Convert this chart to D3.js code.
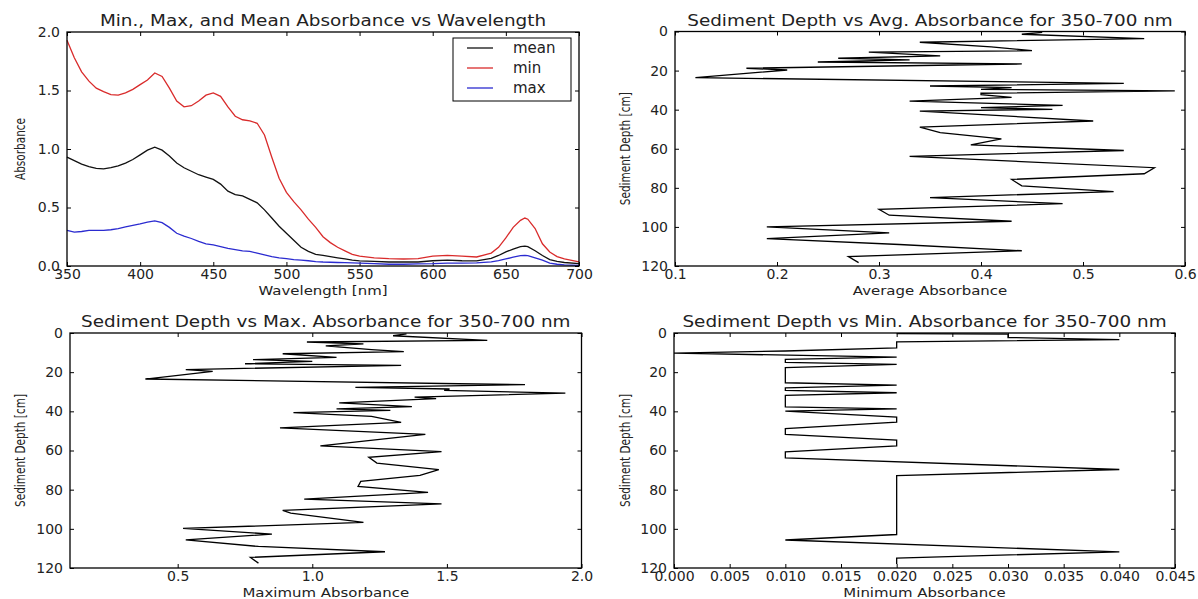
<!DOCTYPE html>
<html>
<head>
<meta charset="utf-8">
<script src="https://d3js.org/d3.v7.min.js"></script>
<style>
  body { margin: 0; background: #fff; }
  text { font-family: "DejaVu Sans", sans-serif; fill: #222; }
</style>
</head>
<body>
<svg id="chart" width="1198" height="599"></svg>
<script>
// ---- spectra: wavelength vs absorbance ----
var wavelengths = [350, 355, 360, 365, 370, 375, 380, 385, 390, 395, 400, 405, 410, 415, 420, 425, 430, 435, 440, 445,
  450, 455, 460, 465, 470, 475, 480, 485, 490, 495, 500, 505, 510, 515, 520, 525, 530, 535, 540, 545,
  550, 560, 570, 580, 590, 600, 610, 620, 630, 640, 645, 650, 655, 660, 663, 665, 670, 675, 680, 685, 690, 700];
var meanSpec = [0.93, 0.90, 0.87, 0.85, 0.835, 0.83, 0.84, 0.855, 0.88, 0.91, 0.95, 0.99, 1.015, 0.99, 0.94, 0.88, 0.84, 0.81, 0.78, 0.76,
  0.74, 0.70, 0.64, 0.61, 0.60, 0.57, 0.54, 0.48, 0.41, 0.34, 0.28, 0.22, 0.16, 0.125, 0.10, 0.09, 0.08, 0.07, 0.06, 0.05,
  0.043, 0.04, 0.034, 0.034, 0.034, 0.045, 0.05, 0.045, 0.043, 0.065, 0.09, 0.12, 0.145, 0.165, 0.17, 0.165, 0.13, 0.09, 0.055, 0.04, 0.03, 0.02];
var minSpec = [1.93, 1.78, 1.66, 1.58, 1.52, 1.49, 1.465, 1.46, 1.48, 1.51, 1.55, 1.59, 1.65, 1.62, 1.52, 1.41, 1.36, 1.37, 1.41, 1.46,
  1.48, 1.45, 1.36, 1.28, 1.25, 1.24, 1.22, 1.12, 0.93, 0.75, 0.63, 0.55, 0.48, 0.40, 0.33, 0.25, 0.20, 0.16, 0.13, 0.10,
  0.085, 0.07, 0.063, 0.06, 0.063, 0.085, 0.09, 0.085, 0.077, 0.11, 0.16, 0.24, 0.33, 0.39, 0.41, 0.40, 0.32, 0.19, 0.12, 0.08, 0.06, 0.035];
var maxSpec = [0.305, 0.29, 0.295, 0.305, 0.305, 0.305, 0.31, 0.32, 0.335, 0.348, 0.36, 0.375, 0.385, 0.37, 0.33, 0.28, 0.255, 0.235, 0.21, 0.19,
  0.18, 0.165, 0.15, 0.14, 0.13, 0.125, 0.11, 0.095, 0.08, 0.07, 0.063, 0.055, 0.05, 0.045, 0.038, 0.034, 0.032, 0.03, 0.028, 0.026,
  0.025, 0.02, 0.015, 0.015, 0.018, 0.02, 0.025, 0.025, 0.026, 0.035, 0.045, 0.06, 0.075, 0.088, 0.091, 0.088, 0.07, 0.05, 0.025, 0.015, 0.01, 0.006];

// ---- depth profiles ----
var avgDepth = [0.4, 1.4, 3.6, 5.5, 7.9, 9.8, 10.6, 12.5, 13.7, 14.5, 15.6, 16.6, 18.8, 19.7, 23.6, 26.5, 27.9, 28.7, 29.6, 30.4,
  31.6, 32.3, 33.7, 35.6, 37.8, 39.0, 39.8, 40.7, 45.8, 48.9, 51.8, 54.9, 58.0, 60.9, 63.9, 69.7, 72.8, 75.7, 79.0, 81.9,
  85.0, 88.1, 91.0, 94.0, 97.1, 100.0, 103.1, 106.0, 109.0, 112.2, 115.2, 118.3];
var avgAbs = [0.46, 0.44, 0.56, 0.34, 0.41, 0.45, 0.29, 0.36, 0.26, 0.33, 0.24, 0.44, 0.17, 0.21, 0.12, 0.54, 0.35, 0.43, 0.40, 0.59,
  0.40, 0.40, 0.43, 0.33, 0.48, 0.40, 0.47, 0.34, 0.51, 0.34, 0.36, 0.42, 0.39, 0.54, 0.33, 0.57, 0.56, 0.43, 0.44, 0.53,
  0.35, 0.48, 0.30, 0.31, 0.43, 0.19, 0.31, 0.19, 0.32, 0.44, 0.27, 0.28];

var maxDepth = [0.5, 1.4, 3.8, 4.6, 5.6, 6.6, 8.5, 9.5, 10.6, 12.4, 13.6, 14.5, 15.7, 16.5, 18.7, 19.6, 23.5, 26.4, 27.8, 28.6,
  29.3, 30.7, 32.7, 33.5, 35.7, 37.6, 38.7, 39.5, 40.7, 42.6, 45.6, 48.4, 51.8, 57.6, 60.6, 63.5, 66.4, 69.8, 72.7, 75.8,
  78.3, 81.4, 84.8, 87.3, 90.6, 92.0, 96.7, 99.8, 102.7, 105.6, 109.0, 111.7, 114.6, 117.5];
var maxAbs = [1.35, 1.30, 1.65, 0.98, 1.19, 1.05, 1.22, 1.34, 0.89, 1.09, 0.78, 1.00, 0.75, 1.33, 0.53, 0.63, 0.38, 1.79, 1.16, 1.51,
  1.49, 1.94, 1.38, 1.46, 1.10, 1.37, 1.09, 1.29, 0.93, 1.22, 1.33, 0.88, 1.42, 1.03, 1.48, 1.21, 1.24, 1.47, 1.40, 1.18,
  1.17, 1.43, 0.97, 1.48, 0.89, 0.92, 1.19, 0.52, 0.85, 0.53, 0.80, 1.27, 0.77, 0.80];

var minDepth = [0.3, 0.6, 2.3, 3.4, 4.5, 7.6, 9.2, 10.3, 12.3, 13.5, 15.0, 16.0, 17.7, 25.4, 26.6, 28.0, 29.3, 30.5, 31.9, 37.7,
  38.7, 39.9, 42.9, 45.5, 48.8, 51.8, 54.7, 57.6, 60.7, 63.8, 69.7, 72.8, 102.9, 105.7, 111.8, 114.9, 117.9];
var minAbs = [0.02, 0.03, 0.03, 0.04, 0.02, 0.02, 0.01, 0.0, 0.02, 0.01, 0.01, 0.02, 0.01, 0.01, 0.02, 0.01, 0.01, 0.02, 0.01, 0.01,
  0.02, 0.01, 0.02, 0.02, 0.01, 0.01, 0.02, 0.02, 0.01, 0.01, 0.04, 0.02, 0.02, 0.01, 0.04, 0.02, 0.02];

var depthTicks = [0, 20, 40, 60, 80, 100, 120];
var legendNames = ["mean", "min", "max"];
var legendColors = ["#111111", "#d92b2b", "#2b2bd0"];

var svg = d3.select("#chart");

// one framed panel with matplotlib-like inward ticks on all four sides
function panel(p) {
  var x = d3.scaleLinear().domain(p.xDomain).range([p.left, p.right]);
  var y = d3.scaleLinear().domain(p.yDomain).range(p.yDown ? [p.top, p.bottom] : [p.bottom, p.top]);
  var g = svg.append("g");

  function styleAxis(a) {
    a.select(".domain").remove();
    a.selectAll("line").attr("stroke", "#000").attr("stroke-width", 1);
    a.selectAll("text").style("font-size", "14px").style("font-family", "DejaVu Sans").attr("fill", "#222");
  }

  g.append("g").attr("transform", "translate(0," + p.bottom + ")")
    .call(d3.axisBottom(x).tickValues(p.xTicks).tickFormat(p.xFmt).tickSizeInner(-4).tickSizeOuter(0).tickPadding(3))
    .call(styleAxis);
  g.append("g").attr("transform", "translate(0," + p.top + ")")
    .call(d3.axisTop(x).tickValues(p.xTicks).tickFormat("").tickSizeInner(-4).tickSizeOuter(0))
    .call(styleAxis);
  g.append("g").attr("transform", "translate(" + p.left + ",0)")
    .call(d3.axisLeft(y).tickValues(p.yTicks).tickFormat(p.yFmt).tickSizeInner(-4).tickSizeOuter(0).tickPadding(7))
    .call(styleAxis);
  g.append("g").attr("transform", "translate(" + p.right + ",0)")
    .call(d3.axisRight(y).tickValues(p.yTicks).tickFormat("").tickSizeInner(-4).tickSizeOuter(0))
    .call(styleAxis);

  // data lines
  p.series.forEach(function(s) {
    var pts = s.xs.map(function(v, i) { return [v, s.ys[i]]; });
    var line = d3.line()
      .x(function(d) { return p.swap ? x(d[1]) : x(d[0]); })
      .y(function(d) { return p.swap ? y(d[0]) : y(d[1]); });
    g.append("path").datum(pts)
      .attr("d", line)
      .attr("fill", "none")
      .attr("stroke", s.color)
      .attr("stroke-width", 1.3)
      .attr("stroke-linejoin", "miter");
  });

  // frame
  g.append("rect")
    .attr("x", p.left).attr("y", p.top)
    .attr("width", p.right - p.left).attr("height", p.bottom - p.top)
    .attr("fill", "none").attr("stroke", "#000").attr("stroke-width", 1.3);

  var cx = (p.left + p.right) / 2, cy = (p.top + p.bottom) / 2;
  g.append("text")
    .attr("transform", "translate(" + cx + "," + (p.top - 6) + ") scale(1.15,1)")
    .attr("text-anchor", "middle")
    .style("font-size", "16px")
    .text(p.title);
  g.append("text")
    .attr("transform", "translate(" + cx + "," + (p.bottom + 29) + ") scale(1.15,1)")
    .attr("text-anchor", "middle")
    .style("font-size", "13px")
    .text(p.xLabel);
  g.append("text")
    .attr("transform", "translate(" + p.yLabelX + "," + cy + ") rotate(-90) scale(1,1.35)")
    .attr("text-anchor", "middle")
    .attr("dy", "0.35em")
    .style("font-size", "10.5px")
    .text(p.yLabel);

  return { g: g, x: x, y: y };
}

var fmt1 = d3.format(".1f");

var p1 = panel({
  left: 67, right: 579, top: 32, bottom: 266,
  xDomain: [350, 700], yDomain: [0, 2],
  xTicks: d3.range(350, 701, 50), yTicks: [0, 0.5, 1, 1.5, 2],
  xFmt: d3.format("d"), yFmt: fmt1,
  title: "Min., Max, and Mean Absorbance vs Wavelength",
  xLabel: "Wavelength [nm]", yLabel: "Absorbance", yLabelX: 20,
  series: [
    { xs: wavelengths, ys: meanSpec, color: legendColors[0] },
    { xs: wavelengths, ys: minSpec, color: legendColors[1] },
    { xs: wavelengths, ys: maxSpec, color: legendColors[2] }
  ]
});

// legend
var lg = p1.g.append("g").attr("transform", "translate(453,38)");
lg.append("rect").attr("width", 118).attr("height", 63)
  .attr("fill", "#fff").attr("stroke", "#000").attr("stroke-width", 1);
legendNames.forEach(function(name, i) {
  var yy = 10 + i * 20;
  lg.append("line").attr("x1", 14).attr("x2", 40).attr("y1", yy).attr("y2", yy)
    .attr("stroke", legendColors[i]).attr("stroke-width", 1.3);
  lg.append("text").attr("x", 60).attr("y", yy + 5)
    .style("font-size", "15px").text(name);
});

panel({
  left: 675, right: 1185, top: 31.5, bottom: 266,
  xDomain: [0.1, 0.6], yDomain: [0, 120], yDown: true, swap: true,
  xTicks: [0.1, 0.2, 0.3, 0.4, 0.5, 0.6], yTicks: depthTicks,
  xFmt: fmt1, yFmt: d3.format("d"),
  title: "Sediment Depth vs Avg. Absorbance for 350-700 nm",
  xLabel: "Average Absorbance", yLabel: "Sediment Depth [cm]", yLabelX: 625,
  series: [{ xs: avgDepth, ys: avgAbs, color: "#000" }]
});

panel({
  left: 70, right: 581.5, top: 333, bottom: 568,
  xDomain: [0.1, 2.0], yDomain: [0, 120], yDown: true, swap: true,
  xTicks: [0.5, 1.0, 1.5, 2.0], yTicks: depthTicks,
  xFmt: fmt1, yFmt: d3.format("d"),
  title: "Sediment Depth vs Max. Absorbance for 350-700 nm",
  xLabel: "Maximum Absorbance", yLabel: "Sediment Depth [cm]", yLabelX: 20,
  series: [{ xs: maxDepth, ys: maxAbs, color: "#000" }]
});

panel({
  left: 674, right: 1175, top: 333, bottom: 568,
  xDomain: [0, 0.045], yDomain: [0, 120], yDown: true, swap: true,
  xTicks: d3.range(0, 0.0451, 0.005), yTicks: depthTicks,
  xFmt: d3.format(".3f"), yFmt: d3.format("d"),
  title: "Sediment Depth vs Min. Absorbance for 350-700 nm",
  xLabel: "Minimum Absorbance", yLabel: "Sediment Depth [cm]", yLabelX: 625,
  series: [{ xs: minDepth, ys: minAbs, color: "#000" }]
});
</script>
</body>
</html>
